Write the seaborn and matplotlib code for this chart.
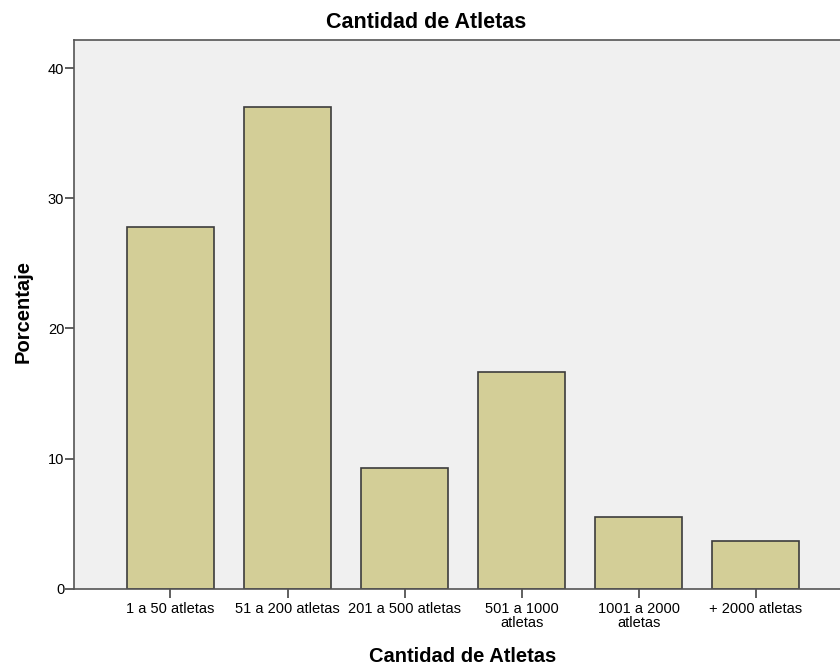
import numpy as np
import pandas as pd
import matplotlib
matplotlib.use("Agg")
import matplotlib.pyplot as plt
import seaborn as sns

# datos
categorias = ["1 a 50 atletas", "51 a 200 atletas", "201 a 500 atletas",
              "501 a 1000\natletas", "1001 a 2000\natletas", "+ 2000 atletas"]
porcentaje = [27.78, 37.04, 9.26, 16.67, 5.56, 3.70]

df = pd.DataFrame({"cat": categorias, "pct": porcentaje})

sns.set_style("white")
plt.rcParams["font.family"] = ["Liberation Sans", "DejaVu Sans"]
plt.rcParams["text.color"] = "black"
plt.rcParams["axes.labelcolor"] = "black"
plt.rcParams["xtick.color"] = "black"
plt.rcParams["ytick.color"] = "black"

fig = plt.figure(figsize=(8.4, 6.67), dpi=100)
ax = fig.add_axes([0.088, 0.117, 0.912, 0.823])
ax.set_facecolor("#F0F0F0")

sns.barplot(data=df, x="cat", y="pct", color="#D3CE97", width=0.744,
            edgecolor="#3C3C3C", linewidth=1.2, saturation=1, ax=ax)

ax.set_xlim(-0.825, 5.72)
ax.set_ylim(0, 42.15)
ax.set_yticks([0, 10, 20, 30, 40])
ax.tick_params(axis="both", direction="out", length=6.5, width=1.2,
               labelsize=10.5, bottom=True, left=True)
ax.tick_params(axis="y", pad=0.5)
ax.tick_params(axis="x", pad=3)
ax.tick_params(axis="both", color="#444444")

for s in ["left", "bottom", "top"]:
    ax.spines[s].set_color("#555555")
    ax.spines[s].set_linewidth(1.2)
ax.spines["right"].set_visible(False)

# titulo centrado en la figura
fig.text(0.507, 1 - 22 / 667, "Cantidad de Atletas", fontsize=15.5,
         fontweight="bold", ha="center", va="center")
ax.set_xlabel("Cantidad de Atletas", fontsize=14.5, fontweight="bold")
ax.set_ylabel("Porcentaje", fontsize=14.5, fontweight="bold")
ax.xaxis.set_label_coords(0.507, -0.105)
ax.yaxis.set_label_coords(-0.0535, 0.505)
for lbl in ax.get_xticklabels():
    lbl.set_linespacing(0.95)

fig.savefig("out.png", dpi=100)
